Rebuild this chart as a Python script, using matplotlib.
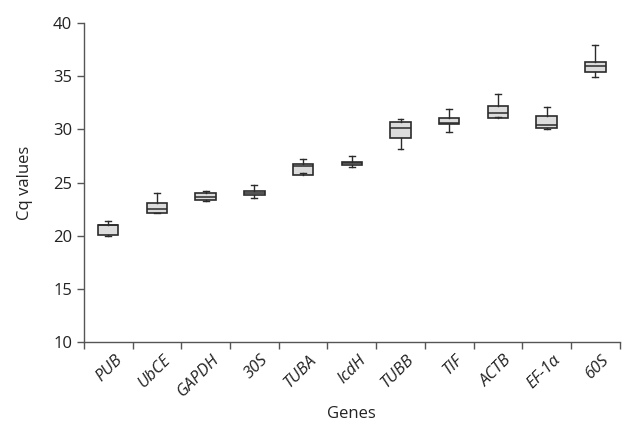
import numpy as np
import matplotlib.pyplot as plt

genes = ["PUB", "UbCE", "GAPDH", "30S", "TUBA", "IcdH", "TUBB", "TIF", "ACTB", "EF-1α", "60S"]
whislo = [20.0, 22.15, 23.3, 23.55, 25.85, 26.45, 28.15, 29.75, 31.2, 30.0, 34.9]
q1 = [20.05, 22.1, 23.4, 23.8, 25.7, 26.62, 29.2, 30.5, 31.1, 30.15, 35.4]
med = [21.0, 22.5, 23.6, 24.05, 26.6, 26.8, 30.15, 30.6, 31.55, 30.45, 35.95]
q3 = [21.05, 23.05, 24.05, 24.25, 26.75, 26.95, 30.7, 31.05, 32.2, 31.25, 36.3]
whishi = [21.4, 24.05, 24.2, 24.8, 27.25, 27.45, 30.95, 31.9, 33.35, 32.1, 37.9]

plt.rcParams['font.family'] = ['Open Sans', 'DejaVu Sans']

stats = []
for i, g in enumerate(genes):
    stats.append({"label": g, "whislo": whislo[i], "q1": q1[i], "med": med[i],
                  "q3": q3[i], "whishi": whishi[i], "fliers": []})

fig = plt.figure(figsize=(6.26, 4.25), dpi=100)
ax = fig.add_axes([0.134, 0.195, 0.856, 0.751])

pos = np.arange(len(genes))
ax.bxp(stats, positions=pos, widths=0.42, patch_artist=True, showfliers=False,
       boxprops=dict(facecolor="#dcdcdc", edgecolor="#2b2b2b", linewidth=1.2),
       medianprops=dict(color="#2b2b2b", linewidth=1.1),
       whiskerprops=dict(color="#2b2b2b", linewidth=1.0),
       capprops=dict(color="#2b2b2b", linewidth=1.0),
       capwidths=0.12)

ax.set_xlim(-0.5, len(genes) - 0.5)
ax.set_ylim(10, 40)
ax.set_yticks(np.arange(10, 41, 5))

ax.set_xticks(pos + 0.12)
ax.set_xticklabels(genes, rotation=45, ha="right", rotation_mode="anchor",
                   fontstyle="italic", fontsize=12)
ax.set_xticks(np.arange(-0.5, len(genes), 1.0), minor=True)
ax.tick_params(axis="x", which="major", length=0, pad=7, labelcolor="#222222")
ax.tick_params(axis="x", which="minor", length=5, color="#555555", width=1)
ax.tick_params(axis="y", length=5, color="#555555", width=1, labelsize=12, labelcolor="#222222")

for s in ["top", "right"]:
    ax.spines[s].set_visible(False)
for s in ["left", "bottom"]:
    ax.spines[s].set_color("#555555")
    ax.spines[s].set_linewidth(1)

ax.set_ylabel("Cq values", fontsize=12, color="#222222", labelpad=14)
ax.set_xlabel("Genes", fontsize=12, color="#222222", labelpad=4)

fig.savefig("out.png", dpi=100)
